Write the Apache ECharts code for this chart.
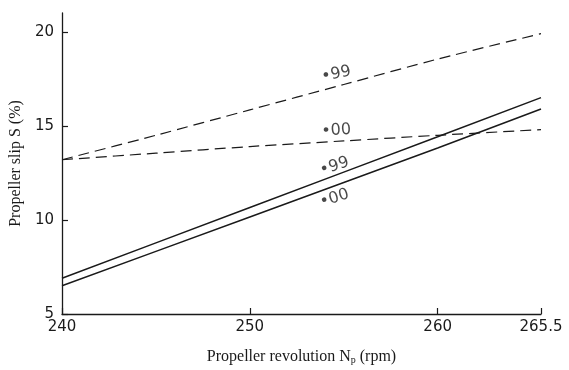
<!DOCTYPE html>
<html>
<head>
<meta charset="utf-8">
<script src="https://cdn.jsdelivr.net/npm/echarts@6/dist/echarts.min.js"></script>
<style>
  html, body { margin: 0; padding: 0; background: #fff; }
  #slipChart { width: 569px; height: 370px; }
</style>
</head>
<body>
<div id="slipChart"></div>
<script>
// propeller revolution (rpm)
const revs = [240, 245, 250, 255, 260, 265.5]
const xTicks = [240, 250, 260, 265.5]
const yTicks = [5, 10, 15, 20]

// dashed curves
const slipDashed99 = [13.2, 14.5, 15.85, 17.2, 18.55, 19.9]
const slipDashed00 = [13.2, 13.55, 13.9, 14.2, 14.5, 14.8]
// solid lines
const slipSolid99 = [6.9, 8.78, 10.66, 12.54, 14.42, 16.5]
const slipSolid00 = [6.5, 8.33, 10.16, 11.99, 13.82, 15.9]

// curve tags
const tagText = ['\u202299', '\u202200', '\u202299', '\u202200']
const tagX = [254.6, 254.6, 254.5, 254.5]
const tagY = [17.75, 14.75, 12.85, 11.15]

const chart = echarts.init(document.getElementById('slipChart'))

const ink = '#1a1a1a'
const tickFont = 'DejaVu Sans'
const nameFont = 'Liberation Serif'

const pairs = (ys) => revs.map((x, i) => [x, ys[i]])

const lineSeries = (ys, dashed) => ({
  type: 'line',
  data: pairs(ys),
  smooth: dashed ? 0.3 : false,
  symbol: 'none',
  silent: true,
  lineStyle: {
    color: ink,
    width: dashed ? 1.2 : 1.5,
    type: dashed ? [11, 6] : 'solid',
  },
})

const tagRotate = [12, 4, 18, 18]

const option = {
  animation: false,
  grid: { left: 62, right: 28, top: 13, bottom: 53 },
  xAxis: {
    type: 'value',
    min: 240,
    max: 265.5,
    name: 'Propeller revolution N{sub|p} (rpm)',
    nameLocation: 'middle',
    nameGap: 35,
    nameTextStyle: {
      fontFamily: nameFont,
      fontSize: 16,
      color: ink,
      rich: {
        sub: { fontFamily: nameFont, fontSize: 10, color: ink, verticalAlign: 'bottom', padding: [6, 0, 0, 0] },
      },
    },
    axisLine: { lineStyle: { color: ink, width: 1.3 } },
    axisTick: { inside: true, length: 6, customValues: xTicks, lineStyle: { color: ink, width: 1.2 } },
    axisLabel: {
      customValues: xTicks,
      margin: 6,
      color: ink,
      fontFamily: tickFont,
      fontSize: 15,
    },
    splitLine: { show: false },
  },
  yAxis: {
    type: 'value',
    min: 5,
    max: 21,
    name: 'Propeller slip S (%)',
    nameLocation: 'middle',
    nameGap: 28,
    nameTextStyle: { fontFamily: nameFont, fontSize: 16, color: ink },
    axisLine: { show: true, lineStyle: { color: ink, width: 1.3 } },
    axisTick: { show: true, inside: true, length: 6, customValues: yTicks, lineStyle: { color: ink, width: 1.2 } },
    axisLabel: {
      customValues: yTicks,
      margin: 8,
      color: ink,
      fontFamily: tickFont,
      fontSize: 15,
    },
    splitLine: { show: false },
  },
  series: [
    lineSeries(slipDashed99, true),
    lineSeries(slipDashed00, true),
    lineSeries(slipSolid99, false),
    lineSeries(slipSolid00, false),
    {
      type: 'scatter',
      symbolSize: 0,
      silent: true,
      data: tagText.map((t, i) => ({
        value: [tagX[i], tagY[i]],
        label: {
          show: true,
          formatter: t,
          position: 'inside',
          rotate: tagRotate[i],
          color: ink,
          fontFamily: tickFont,
          fontSize: 16,
        },
      })),
    },
  ],
}

chart.setOption(option)
</script>
</body>
</html>
